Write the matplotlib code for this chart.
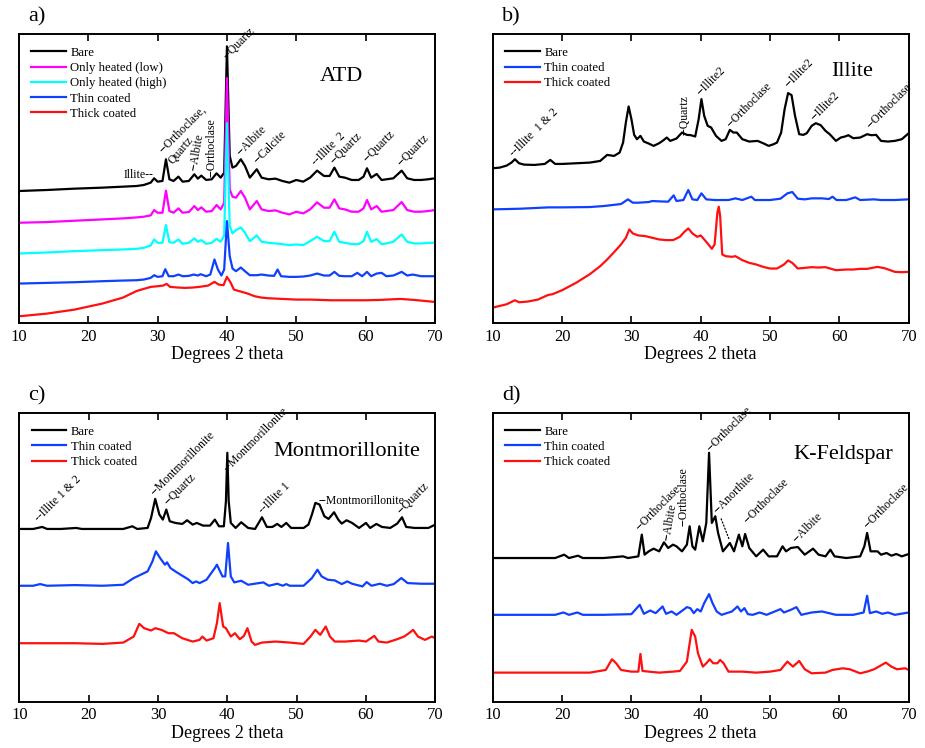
import matplotlib
matplotlib.use('Agg')
import matplotlib.pyplot as plt

plt.rcParams['font.family'] = ['Liberation Serif', 'DejaVu Serif']

# intensities in arbitrary units, axis span 0..865 in every panel
A_BARE = [(10, 395), (14, 398), (18, 402), (22, 405), (25, 408), (27, 410), (28, 413), (29, 420), (29.5, 433),
          (30, 423), (30.7, 425), (31.2, 490), (31.7, 430), (32.3, 425), (33, 438), (33.6, 423), (34.5, 425),
          (35.3, 445), (35.8, 432), (36.3, 441), (37, 428), (37.8, 430), (38.5, 448), (39.1, 435), (39.6, 450),
          (40.0, 828), (40.4, 500), (40.8, 465), (41.3, 470), (42.0, 490), (42.6, 470), (43.3, 435), (44.3, 460),
          (45, 435), (46, 430), (47, 432), (48, 425), (49, 420), (50, 428), (51, 423), (52, 435), (53, 456),
          (54, 440), (54.8, 440), (55.5, 465), (56.2, 438), (57, 435), (58, 428), (59, 428), (59.7, 438),
          (60.2, 463), (60.8, 435), (61.6, 446), (62.3, 428), (63, 430), (64, 433), (65.2, 456), (66, 433),
          (67, 428), (68, 428), (69, 430), (70, 433)]
A_LOW = [(10, 300), (14, 302), (18, 306), (22, 310), (25, 313), (27, 316), (28, 318), (29, 322), (29.5, 338),
         (30, 330), (30.7, 330), (31.2, 396), (31.7, 335), (32.3, 330), (33, 343), (33.6, 330), (34.5, 332),
         (35.3, 350), (35.8, 338), (36.3, 346), (37, 333), (37.8, 335), (38.5, 353), (39.1, 340), (39.6, 360),
         (40.0, 733), (40.4, 400), (40.8, 378), (41.3, 375), (42.0, 395), (42.6, 375), (43.3, 340), (44.3, 365),
         (45, 340), (46, 335), (47, 337), (48, 330), (49, 325), (50, 333), (51, 328), (52, 340), (53, 361),
         (54, 345), (54.8, 345), (55.5, 370), (56.2, 343), (57, 340), (58, 333), (59, 333), (59.7, 343),
         (60.2, 368), (60.8, 340), (61.6, 350), (62.3, 333), (63, 335), (64, 338), (65.2, 362), (66, 338),
         (67, 333), (68, 333), (69, 335), (70, 338)]
A_HIGH = [(10, 208), (14, 211), (18, 215), (22, 218), (25, 220), (27, 222), (28, 225), (29, 232), (29.5, 250),
          (30, 240), (30.7, 240), (31.2, 293), (31.7, 242), (32.3, 240), (33, 250), (33.6, 237), (34.5, 240),
          (35.3, 253), (35.8, 243), (36.3, 248), (37, 237), (37.8, 240), (38.5, 252), (39.1, 243), (39.6, 262),
          (40.0, 598), (40.4, 290), (40.8, 268), (41.3, 278), (42.0, 286), (42.6, 270), (43.3, 245), (44.3, 262),
          (45, 243), (46, 240), (47, 238), (48, 236), (49, 233), (50, 235), (51, 233), (52, 245), (53, 258),
          (54, 245), (54.8, 245), (55.5, 273), (56.2, 243), (57, 240), (58, 236), (59, 236), (59.7, 245),
          (60.2, 273), (60.8, 243), (61.6, 251), (62.3, 236), (63, 238), (64, 243), (65.2, 265), (66, 243),
          (67, 238), (68, 238), (69, 240), (70, 240)]
A_THIN = [(10, 118), (14, 120), (18, 122), (22, 125), (25, 127), (27, 128), (28, 130), (29, 135), (29.5, 143),
          (30, 138), (30.7, 140), (31.1, 161), (31.6, 140), (32.3, 140), (33, 145), (33.6, 140), (34.5, 141),
          (35.2, 145), (35.8, 142), (36.2, 146), (37, 140), (37.6, 145), (38.2, 190), (38.7, 160), (39.2, 142),
          (39.6, 160), (40.0, 305), (40.4, 200), (40.8, 163), (41.3, 155), (42.0, 166), (42.6, 155), (43.3, 143),
          (44.3, 143), (45, 145), (46, 142), (46.8, 141), (47.3, 160), (47.8, 140), (49, 138), (50, 138),
          (51, 139), (52, 142), (53, 148), (54, 142), (54.8, 142), (55.5, 153), (56.2, 141), (57, 140), (58, 140),
          (58.8, 150), (59.5, 140), (60.2, 153), (60.8, 140), (61.6, 148), (62.3, 150), (63, 140), (64, 142),
          (65.2, 153), (66, 142), (66.8, 145), (68, 140), (69, 140), (70, 140)]
A_THICK = [(10, 20), (14, 28), (18, 40), (22, 58), (25, 76), (27, 96), (29, 108), (30, 110), (30.8, 112),
           (31.3, 117), (31.8, 108), (33, 106), (34, 105), (35, 106), (36, 108), (37.3, 112), (38.2, 123),
           (38.8, 115), (39.5, 113), (40.0, 138), (40.5, 122), (41, 100), (42, 94), (43, 88), (44, 80), (45, 76),
           (46, 74), (48, 72), (50, 70), (52, 70), (55, 68), (58, 68), (60, 68), (62, 69), (65, 72), (67, 69),
           (68, 67), (70, 63)]

B_BARE = [(10, 463), (11, 465), (12, 471), (12.7, 480), (13.2, 490), (13.8, 478), (14.5, 474), (16, 473),
          (17.5, 476), (18.3, 488), (19, 476), (20, 476), (22, 478), (24, 480), (25.5, 485), (26.5, 503),
          (27.5, 500), (28.3, 510), (28.8, 540), (29.2, 600), (29.6, 648), (30.0, 610), (30.4, 563), (30.8, 550),
          (31.3, 560), (31.8, 543), (32.5, 537), (33.2, 530), (34, 538), (34.5, 545), (35.1, 555), (35.6, 545),
          (36.5, 552), (37.3, 570), (38, 563), (38.6, 562), (39.2, 558), (39.7, 610), (40.1, 670), (40.5, 620),
          (41, 590), (41.5, 585), (42.2, 560), (43, 545), (43.6, 550), (44.2, 578), (44.7, 570), (45.2, 570),
          (46, 550), (47, 543), (48.2, 545), (49, 538), (49.8, 530), (50.5, 535), (51, 540), (51.6, 570),
          (52.1, 640), (52.6, 688), (53.1, 682), (53.6, 620), (54.2, 565), (54.8, 563), (55.3, 568), (56, 590),
          (56.6, 598), (57.3, 592), (58, 575), (58.6, 565), (59.5, 545), (60.2, 555), (60.8, 558), (61.3, 562),
          (62, 553), (63, 555), (64, 565), (64.6, 562), (65.3, 563), (66, 545), (67, 543), (68, 545), (69, 550),
          (70, 568)]
B_THIN = [(10, 340), (14, 342), (18, 346), (20, 346), (24, 347), (26, 350), (28.5, 356), (29.5, 370), (30.2, 360),
          (31, 360), (32.5, 362), (33, 365), (34, 364), (35.3, 363), (36.1, 382), (36.5, 365), (37.5, 368),
          (38.2, 398), (38.8, 370), (39.5, 368), (40.1, 388), (40.8, 370), (42, 368), (44, 368), (45, 373),
          (46, 368), (47.3, 378), (47.8, 368), (50, 368), (51.5, 372), (52.5, 388), (53.2, 392), (54, 372),
          (55, 370), (56, 373), (57.5, 373), (58.5, 371), (59, 378), (59.6, 368), (61, 368), (62.3, 376),
          (63, 368), (65, 370), (66, 368), (68, 368), (70, 370)]
B_THICK = [(10, 46), (12, 56), (13.2, 68), (13.8, 62), (15, 64), (16.5, 70), (18, 84), (18.6, 86), (20, 98),
           (22, 120), (24, 146), (25.5, 170), (26.5, 190), (27.5, 212), (28.5, 235), (29.2, 255), (29.7, 280),
           (30.2, 268), (31, 262), (32, 260), (33, 255), (34, 250), (35, 248), (36, 248), (37, 258), (37.6, 272),
           (38.2, 283), (38.8, 268), (39.5, 258), (40, 262), (40.5, 250), (41, 238), (41.6, 222), (42.0, 235),
           (42.4, 330), (42.6, 348), (42.8, 320), (43.1, 205), (43.6, 200), (44.5, 198), (45, 200), (46, 188),
           (47, 180), (48, 175), (49, 168), (50, 163), (51, 163), (52, 175), (52.6, 187), (53.2, 180), (54, 163),
           (55, 165), (56, 167), (57, 166), (58, 167), (59.5, 158), (61, 160), (62, 160), (63, 162), (64, 162),
           (65.5, 168), (66.5, 164), (68, 153), (69, 152), (70, 153)]

C_BARE = [(10, 517), (12, 517), (13.3, 523), (14, 517), (16, 517), (18.2, 520), (19, 517), (22, 517), (25, 517),
          (26.3, 525), (27, 517), (28.5, 520), (29.0, 550), (29.6, 607), (30.2, 560), (30.7, 545), (31.2, 575),
          (31.7, 540), (32.5, 535), (33.5, 532), (34.2, 543), (35, 530), (35.6, 535), (36.5, 527), (37.5, 527),
          (38.2, 545), (38.8, 525), (39.5, 525), (39.8, 600), (40.0, 745), (40.2, 600), (40.5, 535), (41.2, 520),
          (42.0, 537), (43, 520), (44, 517), (45, 552), (45.7, 523), (46.5, 523), (47.2, 532), (47.8, 523),
          (48.5, 535), (49.2, 520), (51, 520), (51.7, 530), (52.2, 560), (52.7, 595), (53.3, 590), (54, 555),
          (54.6, 547), (55.4, 567), (56, 545), (56.5, 533), (57.2, 543), (58, 535), (59, 520), (60, 535),
          (60.6, 520), (61.5, 532), (62.3, 523), (63.5, 520), (64.5, 533), (65.2, 552), (65.8, 523), (67, 520),
          (68, 520), (69, 520), (70, 530)]
C_THIN = [(10, 347), (12, 347), (13, 352), (14, 347), (18, 349), (22, 347), (25, 350), (26.5, 370), (27.5, 380),
          (28.5, 390), (29.2, 420), (29.7, 450), (30.3, 430), (31, 410), (31.3, 417), (31.8, 400), (32.5, 390),
          (33.5, 377), (34.3, 367), (35, 355), (35.5, 360), (36, 355), (37, 365), (38.2, 400), (38.5, 410),
          (39.3, 375), (39.7, 375), (40.1, 475), (40.5, 375), (41, 357), (42, 362), (43, 350), (45.2, 357),
          (46, 347), (47.2, 353), (48, 347), (48.5, 352), (49, 347), (51, 347), (52.2, 370), (53, 395),
          (53.6, 375), (54.5, 365), (55.5, 363), (56.5, 352), (57.3, 360), (58, 353), (59.5, 345), (60.1, 358),
          (60.8, 347), (62, 353), (63, 347), (64, 352), (65.1, 370), (66, 355), (68, 353), (70, 353)]
C_THICK = [(10, 175), (14, 175), (18, 175), (22, 173), (25, 177), (26.5, 195), (27.3, 233), (28, 220), (29, 213),
           (29.6, 220), (30.5, 215), (31.5, 205), (32.3, 205), (33.5, 190), (35, 180), (36, 185), (36.4, 195),
           (37, 183), (38, 190), (38.5, 235), (38.9, 295), (39.4, 225), (39.8, 220), (40.5, 195), (41.1, 205),
           (41.8, 187), (42.4, 197), (42.9, 220), (43.5, 180), (44, 170), (45, 177), (47, 180), (49, 177),
           (51, 173), (52, 195), (52.7, 215), (53.4, 200), (54.2, 225), (54.8, 195), (55.5, 180), (57, 180),
           (59, 183), (60, 180), (61.2, 197), (61.8, 180), (63, 177), (64.5, 187), (65.5, 195), (66.2, 205),
           (66.8, 215), (67.5, 195), (68.5, 185), (69.5, 195), (70, 190)]

D_BARE = [(10, 430), (15, 430), (19, 430), (20.3, 440), (21, 430), (22.3, 437), (23, 430), (26, 430), (28.8, 435),
          (29.5, 430), (31, 435), (31.5, 500), (31.9, 440), (32.5, 450), (33.2, 458), (34, 450), (34.7, 477),
          (35.3, 460), (36, 470), (36.5, 465), (37.3, 450), (38, 470), (38.4, 525), (38.8, 465), (39.2, 455),
          (39.8, 525), (40.3, 480), (40.8, 535), (41.2, 745), (41.6, 535), (42.1, 555), (42.5, 505), (43.2, 450),
          (44.2, 475), (44.8, 450), (45.5, 500), (46, 465), (46.4, 502), (47, 460), (48, 435), (49, 455),
          (49.8, 435), (51, 435), (51.8, 465), (52.3, 450), (53, 460), (54, 463), (55, 440), (56.2, 458),
          (57, 440), (58, 435), (58.7, 455), (59.3, 435), (61, 430), (63, 435), (63.6, 465), (64, 505),
          (64.5, 450), (65.5, 450), (66, 440), (66.8, 445), (67.5, 437), (68.2, 442), (69, 435), (70, 442)]
D_THIN = [(10, 260), (15, 260), (19, 260), (20.2, 267), (21, 260), (22.2, 267), (23, 260), (26, 260), (30, 262),
          (31.2, 290), (31.8, 263), (32.7, 273), (33.5, 265), (34.5, 285), (35, 263), (35.8, 270), (36.5, 260),
          (37.5, 275), (38, 283), (38.5, 280), (39, 265), (39.5, 277), (40, 270), (40.5, 295), (41.2, 322),
          (41.7, 295), (42.3, 270), (43, 260), (44.5, 270), (45.3, 285), (45.8, 270), (46.3, 280), (46.8, 262),
          (47.5, 260), (48.5, 267), (49.5, 260), (51.5, 277), (52, 267), (53, 275), (53.8, 283), (54.5, 260),
          (56, 267), (57.5, 270), (58.5, 265), (59.5, 260), (62, 260), (63.5, 267), (64, 317), (64.4, 265),
          (65.3, 270), (66.2, 263), (67, 267), (68, 260), (70, 267)]
D_THICK = [(10, 87), (15, 87), (20, 87), (24, 87), (26.3, 95), (27.2, 127), (27.8, 115), (28.5, 95), (30, 90),
           (31, 90), (31.3, 143), (31.6, 92), (32.5, 90), (34, 87), (36, 90), (37, 92), (38, 120), (38.7, 215),
           (39.2, 195), (39.6, 145), (40.3, 105), (40.8, 115), (41.3, 127), (41.8, 115), (42.4, 115), (42.8, 125),
           (43.3, 115), (44, 90), (46, 90), (48, 87), (50, 90), (51.5, 95), (52.5, 120), (53.3, 105), (54.2, 122),
           (55, 97), (56, 85), (58, 87), (59, 95), (60.5, 100), (61.5, 97), (63, 85), (64, 90), (65, 97),
           (66.7, 117), (67.5, 105), (68.3, 97), (69.5, 100), (70, 95)]

# peak labels: (text, x, y, rotation)
A_LABELS = [('--Orthoclase,', 31.1, 500, 45), ('Quartz', 32.5, 468, 50), ('--Albite', 36.0, 453, 80),
            ('--Orthoclase', 38.7, 438, 90), ('--Quartz', 40.4, 783, 45), ('--Albite', 42.3, 493, 45),
            ('--Calcite', 44.7, 468, 45), ('--Illite  2', 53.2, 463, 45), ('--Quartz', 55.8, 468, 45),
            ('--Quartz', 60.6, 473, 45), ('--Quartz', 65.4, 463, 45)]
B_LABELS = [('--Illite  1 & 2', 13.4, 490, 45), ('--Quartz', 38.5, 563, 90), ('--Illite2', 40.3, 673, 45),
            ('--Orthoclase', 44.6, 578, 45), ('--Illite2', 53.0, 696, 45), ('--Illite2', 56.7, 598, 45),
            ('--Orthoclase', 64.8, 573, 45)]
C_LABELS = [('--Illite 1 & 2', 13.2, 530, 45), ('--Montmorillonite', 29.8, 610, 45), ('--Quartz', 31.8, 580, 45),
            ('--Montmorillonite', 40.4, 680, 45), ('--Illite 1', 45.5, 555, 45), ('--Quartz', 65.4, 555, 45)]
D_LABELS = [('--Orthoclase', 31.5, 505, 45), ('--Albite', 36.0, 480, 80), ('--Orthoclase', 38.4, 525, 90),
            ('--Orthoclase', 41.7, 740, 45), ('--Anorthite', 42.7, 555, 45), ('--Orthoclase', 47.0, 525, 45),
            ('--Albite', 54.2, 470, 45), ('--Orthoclase', 64.3, 510, 45)]

NAMES_A = ['Bare', 'Only heated (low)', 'Only heated (high)', 'Thin coated', 'Thick coated']
NAMES_3 = ['Bare', 'Thin coated', 'Thick coated']
COLORS_A = ['black', '#ff00ff', '#00ffff', '#1040ff', '#ff1010']
COLORS_3 = ['black', '#1040ff', '#ff1010']
LABEL_SIZE = 8.5


def draw_panel(rect, letter, title, title_xy, traces, names, colors, labels):
    ax = fig.add_axes(rect)
    for trace, name, color in zip(traces, names, colors):
        xs, ys = zip(*trace)
        ax.plot(xs, ys, color=color, lw=1.6, label=name)
    for text, x, y, rot in labels:
        ax.text(x, y, text, rotation=rot, rotation_mode='anchor', ha='left', va='bottom', fontsize=LABEL_SIZE)
    ax.text(title_xy[0], title_xy[1], title, ha='center', va='center', fontsize=16)
    ax.set_xlim(10, 70)
    ax.set_ylim(0, 865)
    ax.set_xticks(range(10, 71, 10))
    ax.set_yticks([])
    ax.tick_params(axis='x', direction='in', top=True, length=5, width=1.2, labelsize=12, pad=4)
    for s in ax.spines.values():
        s.set_linewidth(1.4)
    ax.set_xlabel('Degrees 2 theta', fontsize=13, labelpad=1)
    ax.legend(loc='upper left', bbox_to_anchor=(0.03, 0.955), frameon=False, fontsize=9.2,
              handlelength=2.7, handletextpad=0.35, labelspacing=0.25, borderpad=0, borderaxespad=0)
    fig.text(rect[0] + 0.01, rect[1] + rect[3] + 0.023, letter, fontsize=16, va='center')
    return ax


fig = plt.figure(figsize=(9.25, 7.48), dpi=100)

W, H = 0.4497, 0.3864
ax_a = draw_panel([0.0205, 0.5682, W, H], 'a)', 'ATD', (56.5, 738),
                  [A_BARE, A_LOW, A_HIGH, A_THIN, A_THICK], NAMES_A, COLORS_A, A_LABELS)
ax_a.text(29.35, 443, 'Illite--', ha='right', va='center', fontsize=LABEL_SIZE)

draw_panel([0.5327, 0.5682, W, H], 'b)', 'Illite', (61.9, 753),
           [B_BARE, B_THIN, B_THICK], NAMES_3, COLORS_3, B_LABELS)

ax_c = draw_panel([0.0209, 0.0619, W, H], 'c)', 'Montmorillonite', (57.3, 750),
                  [C_BARE, C_THIN, C_THICK], NAMES_3, COLORS_3, C_LABELS)
ax_c.text(53.2, 602, '--Montmorillonite', ha='left', va='center', fontsize=LABEL_SIZE)

ax_d = draw_panel([0.5327, 0.0619, W, H], 'd)', 'K-Feldspar', (60.5, 740),
                  [D_BARE, D_THIN, D_THICK], NAMES_3, COLORS_3, D_LABELS)
ax_d.annotate('', xy=(44.3, 475), xytext=(42.8, 555),
              arrowprops=dict(arrowstyle='-', linestyle=':', color='black', lw=0.9))

fig.savefig('out.png', dpi=100)
